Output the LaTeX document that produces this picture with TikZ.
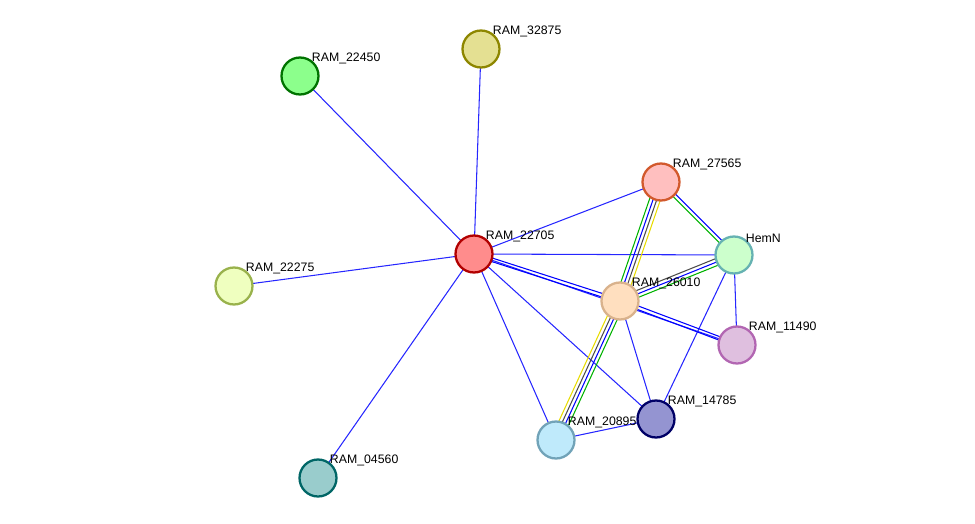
\documentclass[tikz,border=0pt]{standalone}
\usepackage{fontspec}
\setmainfont{Liberation Sans}
\usetikzlibrary{calc}

\tikzset{
  prot/.style={circle,minimum size=0.74cm,line width=1.3pt,inner sep=0pt},
  lab/.style={font=\scriptsize,anchor=south west,inner sep=1pt},
  link/.style={draw=blue!85!white,line width=0.6pt}
}
% edge with parallel coloured strands
\newcommand{\band}[3]{%
  \foreach \off/\col in {#3}{%
    \draw[line width=0.6pt,\col] ($(#1)!\off!90:(#2)$) -- ($(#2)!\off!-90:(#1)$);}}

\begin{document}
\begin{tikzpicture}[x=0.02cm,y=-0.02cm]
\useasboundingbox (0,0) rectangle (975,524);

\coordinate (p22450) at (300,76);
\coordinate (p32875) at (481,49);
\coordinate (p27565) at (661,182);
\coordinate (p22705) at (474,254);
\coordinate (pHemN) at (734,255);
\coordinate (p22275) at (234,286);
\coordinate (p26010) at (620,301);
\coordinate (p11490) at (737,345);
\coordinate (p14785) at (656,419);
\coordinate (p20895) at (556,440);
\coordinate (p04560) at (318,478);

% single links
\foreach \a/\b in {22705/22450,22705/32875,22705/27565,22705/HemN,22705/22275,
  22705/11490,22705/14785,22705/20895,22705/04560,26010/14785,
  HemN/11490,HemN/14785,14785/20895}
  \draw[link] (p\a) -- (p\b);
\band{p22705}{p26010}{1pt/blue,-1pt/blue}
\band{p26010}{p11490}{1pt/blue,-1pt/blue}

% evidence bands
\band{p27565}{p26010}{-3pt/green!70!black,-1pt/blue,1pt/black!70,3pt/yellow!80!olive}
\band{p26010}{p20895}{3pt/green!70!black,1pt/blue,-1pt/black!70,-3pt/yellow!80!olive}
\band{p26010}{pHemN}{2pt/black!70,0pt/blue,-2pt/green!70!black}
\band{p27565}{pHemN}{1pt/blue,-1pt/green!70!black}

% proteins
\node[prot,fill=green!45!white,draw=green!45!black] (n22450) at (p22450) {};
\node[prot,fill=yellow!60!gray!60,draw=olive] (n32875) at (p32875) {};
\node[prot,fill=red!25,draw=brown!70!red] (n27565) at (p27565) {};
\node[prot,fill=red!45,draw=red!70!black] (n22705) at (p22705) {};
\node[prot,fill=green!20,draw=teal!60] (nHemN) at (pHemN) {};
\node[prot,fill=lime!25,draw=lime!40!gray] (n22275) at (p22275) {};
\node[prot,fill=orange!25,draw=brown!60] (n26010) at (p26010) {};
\node[prot,fill=violet!25,draw=violet!60] (n11490) at (p11490) {};
\node[prot,fill=blue!40!gray!60,draw=blue!40!black] (n14785) at (p14785) {};
\node[prot,fill=cyan!25,draw=cyan!40!gray] (n20895) at (p20895) {};
\node[prot,fill=teal!40,draw=teal!80!black] (n04560) at (p04560) {};

% names
\foreach \n/\t in {22450/RAM\_22450,32875/RAM\_32875,27565/RAM\_27565,22705/RAM\_22705,
  HemN/HemN,22275/RAM\_22275,26010/RAM\_26010,11490/RAM\_11490,14785/RAM\_14785,
  20895/RAM\_20895,04560/RAM\_04560}
  \node[lab] at ($(n\n.north east)+(-4,4)$) {\t};
\end{tikzpicture}
\end{document}
